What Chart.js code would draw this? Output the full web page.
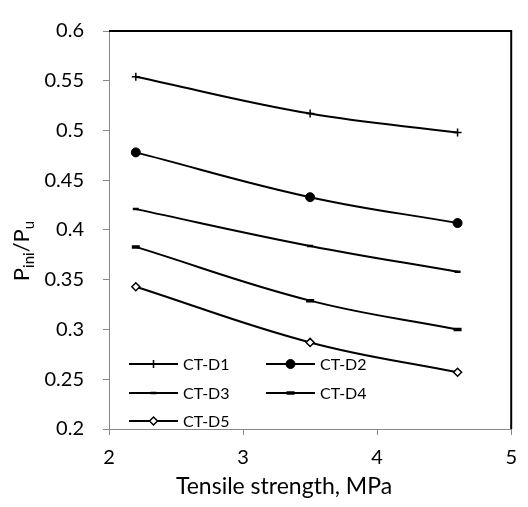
<!DOCTYPE html>
<html>
<head>
<meta charset="utf-8">
<script src="https://cdn.jsdelivr.net/npm/chart.js@4/dist/chart.umd.min.js"></script>
<style>
  html, body { margin: 0; padding: 0; background: #fff; }
  #wrap { width: 528px; height: 507px; }
</style>
</head>
<body>
<div id="wrap"><canvas id="c" width="528" height="507"></canvas></div>
<script>
// Tensile strength of the concrete (MPa)
const strength = [2.2, 3.5, 4.6];

// Cracking-load ratio P_ini / P_u for each specimen group
const ctD1 = [0.554, 0.517, 0.498];
const ctD2 = [0.478, 0.433, 0.407];
const ctD3 = [0.421, 0.384, 0.358];
const ctD4 = [0.383, 0.329, 0.300];
const ctD5 = [0.343, 0.287, 0.257];

const seriesNames = ['CT-D1', 'CT-D2', 'CT-D3', 'CT-D4', 'CT-D5'];
const seriesValues = [ctD1, ctD2, ctD3, ctD4, ctD5];

// Axis ranges and tick steps
const xRange = [2, 5];
const xStep = 1;
const yRange = [0.2, 0.6];
const yStep = 0.05;

const FONT = 'Lato, "Liberation Sans", sans-serif';
const AXIS_GREY = '#888888';

// Marker look for each series
const markerStyles = [
  { pointStyle: 'cross',   radius: 4,   borderWidth: 1.5, fill: '#000' },
  { pointStyle: 'circle',  radius: 4.5, borderWidth: 1,   fill: '#000' },
  { pointStyle: 'line',    radius: 3,   borderWidth: 2.5, fill: '#000' },
  { pointStyle: 'line',    radius: 4,   borderWidth: 3.5, fill: '#000' },
  { pointStyle: 'rectRot', radius: 4,   borderWidth: 1.5, fill: '#fff' }
];

const datasets = seriesNames.map((name, i) => ({
  label: name,
  data: strength.map((x, j) => ({ x: x, y: seriesValues[i][j] })),
  borderColor: '#000',
  borderWidth: 2,
  tension: 0.4,
  fill: false,
  pointStyle: markerStyles[i].pointStyle,
  pointRadius: markerStyles[i].radius,
  pointBorderWidth: markerStyles[i].borderWidth,
  pointBackgroundColor: markerStyles[i].fill,
  pointBorderColor: '#000',
  pointHoverRadius: markerStyles[i].radius
}));

// Frame: black top/right edges, axis titles and the in-plot legend
const decorations = {
  id: 'decorations',
  afterDatasetsDraw(chart) {
    const ctx = chart.ctx;
    const a = chart.chartArea;
    ctx.save();
    // top and right edges of the plot box
    ctx.strokeStyle = '#000';
    ctx.lineWidth = 2;
    ctx.beginPath();
    ctx.moveTo(a.left, a.top);
    ctx.lineTo(a.right, a.top);
    ctx.lineTo(a.right, a.bottom);
    ctx.stroke();
    ctx.restore();

    // legend, two columns inside the plot
    const cols = [129, 266];
    const rows = [364, 393, 421];
    const lineLen = 49;
    ctx.save();
    ctx.font = '16px ' + FONT;
    ctx.textBaseline = 'middle';
    ctx.textAlign = 'left';
    chart.data.datasets.forEach((ds, i) => {
      const x0 = cols[i % 2];
      const y0 = rows[Math.floor(i / 2)];
      ctx.strokeStyle = '#000';
      ctx.lineWidth = 2;
      ctx.beginPath();
      ctx.moveTo(x0, y0);
      ctx.lineTo(x0 + lineLen, y0);
      ctx.stroke();
      ctx.fillStyle = ds.pointBackgroundColor;
      ctx.strokeStyle = '#000';
      ctx.lineWidth = ds.pointBorderWidth;
      Chart.helpers.drawPoint(ctx, {
        pointStyle: ds.pointStyle,
        radius: ds.pointRadius,
        borderWidth: ds.pointBorderWidth,
        rotation: 0
      }, x0 + lineLen / 2, y0);
      ctx.fillStyle = '#000';
      ctx.fillText(ds.label, x0 + lineLen + 5, y0 + 1);
    });
    ctx.restore();
  },
  afterDraw(chart) {
    const ctx = chart.ctx;
    ctx.save();
    ctx.fillStyle = '#000';
    // x-axis title
    ctx.font = '23px ' + FONT;
    ctx.textAlign = 'center';
    ctx.textBaseline = 'alphabetic';
    ctx.fillText('Tensile strength, MPa', 284, 494);

    // y-axis title with subscripts, rotated
    const parts = [
      { t: 'P', sub: false },
      { t: 'ini', sub: true },
      { t: '/P', sub: false },
      { t: 'u', sub: true }
    ];
    const mainFont = '22px ' + FONT;
    const subFont = '15px ' + FONT;
    let total = 0;
    parts.forEach(p => {
      ctx.font = p.sub ? subFont : mainFont;
      p.w = ctx.measureText(p.t).width;
      total += p.w;
    });
    ctx.translate(29, 251);
    ctx.rotate(-Math.PI / 2);
    ctx.textAlign = 'left';
    let x = -total / 2;
    parts.forEach(p => {
      ctx.font = p.sub ? subFont : mainFont;
      ctx.fillText(p.t, x, p.sub ? 5 : 0);
      x += p.w;
    });
    ctx.restore();
  }
};

new Chart(document.getElementById('c'), {
  type: 'line',
  data: { datasets: datasets },
  options: {
    responsive: false,
    animation: false,
    layout: { padding: { top: 16, right: 4, left: 0, bottom: 0 } },
    plugins: {
      legend: { display: false },
      tooltip: { enabled: false }
    },
    scales: {
      x: {
        type: 'linear',
        min: xRange[0],
        max: xRange[1],
        afterFit(scale) { scale.height = 78; },
        ticks: {
          stepSize: xStep,
          color: '#000',
          font: { family: FONT, size: 20 },
          padding: 11
        },
        grid: {
          drawOnChartArea: false,
          drawTicks: true,
          tickLength: 6,
          color: AXIS_GREY
        },
        border: { color: AXIS_GREY, width: 1 }
      },
      y: {
        type: 'linear',
        min: yRange[0],
        max: yRange[1],
        afterFit(scale) { scale.width = 109; },
        ticks: {
          stepSize: yStep,
          color: '#000',
          font: { family: FONT, size: 20 },
          padding: 19,
          callback: v => String(Math.round(v * 100) / 100)
        },
        grid: {
          drawOnChartArea: false,
          drawTicks: true,
          tickLength: 6,
          color: AXIS_GREY
        },
        border: { color: AXIS_GREY, width: 1 }
      }
    }
  },
  plugins: [decorations]
});
</script>
</body>
</html>
